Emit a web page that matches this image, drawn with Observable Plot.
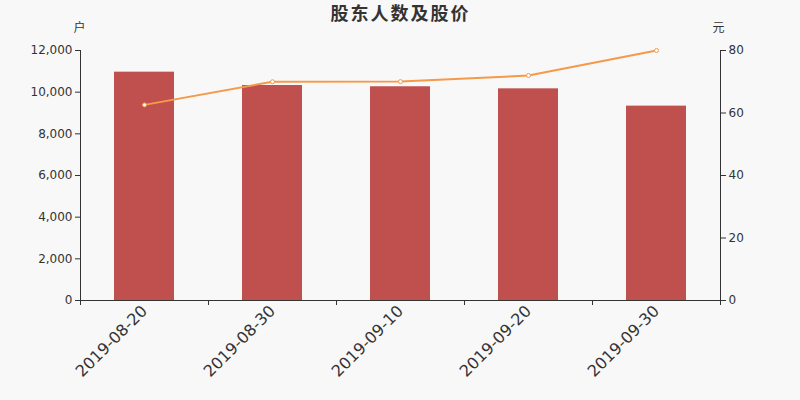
<!DOCTYPE html>
<html>
<head>
<meta charset="utf-8">
<script src="https://cdn.jsdelivr.net/npm/d3@7"></script>
<script src="https://cdn.jsdelivr.net/npm/@observablehq/plot@0.6"></script>
<style>
  html, body { margin: 0; padding: 0; background: #f8f8f8; }
  #chart { width: 800px; height: 400px; }
</style>
</head>
<body>
<div id="chart"></div>
<script>
const title = "股东人数及股价";
const leftUnit = "户";
const rightUnit = "元";
const dates = ["2019-08-20", "2019-08-30", "2019-09-10", "2019-09-20", "2019-09-30"];
const holders = [10960, 10320, 10260, 10160, 9330];
const prices = [62.6, 70.0, 70.05, 72.0, 80.0];
const leftTicks = [0, 2000, 4000, 6000, 8000, 10000, 12000];
const rightTicks = [0, 20, 40, 60, 80];

const leftMax = leftTicks[leftTicks.length - 1];
const rightMax = rightTicks[rightTicks.length - 1];
const k = leftMax / rightMax;

const data = dates.map((d, i) => ({ i, date: d, holders: holders[i], price: prices[i] }));

const font = "'DejaVu Sans', sans-serif";
const cjk = "'Noto Sans CJK SC', sans-serif";
const axisColor = "#333";
const barColor = "#c0504d";
const lineColor = "#f5994a";
const comma = d3.format(",");

const chart = Plot.plot({
  width: 800,
  height: 400,
  marginLeft: 80,
  marginRight: 80,
  marginTop: 50,
  marginBottom: 100,
  style: { background: "#f8f8f8", fontFamily: font, fontSize: "12px", color: axisColor, overflow: "visible" },
  x: { domain: [0, dates.length], axis: null },
  y: { domain: [0, leftMax], axis: null },
  marks: [
    Plot.rectY(data, { x1: "i", x2: d => d.i + 1, y: "holders", fill: barColor, insetLeft: 34, insetRight: 34 }),
    Plot.ruleX([0], { stroke: axisColor, strokeWidth: 1 }),
    Plot.ruleX([dates.length], { stroke: axisColor, strokeWidth: 1 }),
    Plot.ruleY([0], { stroke: axisColor, strokeWidth: 1 }),
    Plot.axisY(leftTicks, { anchor: "left", tickFormat: d => comma(d), tickSize: 5, tickPadding: 3, fontSize: 12, stroke: axisColor, fill: axisColor, label: null }),
    Plot.axisY(rightTicks.map(v => v * k), { anchor: "right", tickFormat: d => String(d / k), tickSize: 5, tickPadding: 3, fontSize: 12, stroke: axisColor, fill: axisColor, label: null }),
    Plot.axisX(d3.range(dates.length + 1), { anchor: "bottom", tickFormat: () => "", tickSize: 5, stroke: axisColor, label: null }),
    Plot.axisX(data.map(d => d.i + 0.5), { anchor: "bottom", tickSize: 0, tickPadding: 8, tickRotate: -45, tickFormat: d => dates[Math.floor(d)], fontSize: 16, fill: axisColor, label: null }),
    Plot.line(data, { x: d => d.i + 0.5, y: d => d.price * k, stroke: lineColor, strokeWidth: 2 }),
    Plot.dot(data, { x: d => d.i + 0.5, y: d => d.price * k, r: 2, fill: "white", stroke: lineColor, strokeWidth: 1 }),
    Plot.text([title], { frameAnchor: "top", lineAnchor: "middle", dy: -36, fontSize: 18, fontWeight: "bold", fill: axisColor, fontFamily: cjk }),
    Plot.text([leftUnit], { frameAnchor: "top-left", textAnchor: "middle", lineAnchor: "middle", dy: -22, dx: -1, fontSize: 12, fill: axisColor, fontFamily: cjk }),
    Plot.text([rightUnit], { frameAnchor: "top-right", textAnchor: "middle", lineAnchor: "middle", dy: -22, dx: -2, fontSize: 12, fill: axisColor, fontFamily: cjk })
  ]
});
chart.querySelectorAll("text").forEach(t => {
  if (t.textContent === title) t.setAttribute("letter-spacing", "2");
});
document.getElementById("chart").appendChild(chart);
</script>
</body>
</html>
